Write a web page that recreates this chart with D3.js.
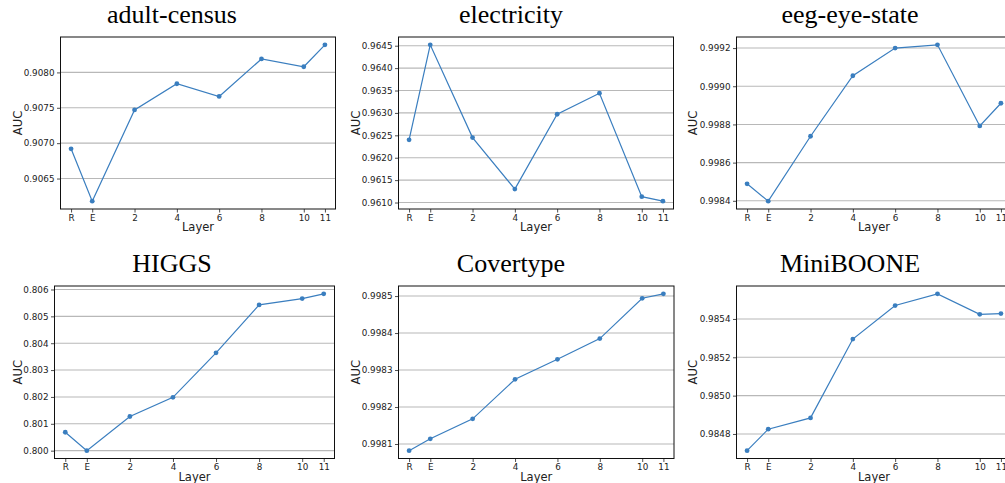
<!DOCTYPE html>
<html><head><meta charset="utf-8">
<script src="https://cdn.jsdelivr.net/npm/d3@7"></script>
<style>
html,body{margin:0;padding:0;background:#fff;}
svg{display:block;}
</style></head>
<body>
<svg id="c" width="1005" height="483"></svg>
<script>
// ---- data ----
const layers = [-1, 0, 2, 4, 6, 8, 10, 11];
const layerLabels = ["R", "E", "2", "4", "6", "8", "10", "11"];

const titles = ["adult-census", "electricity", "eeg-eye-state", "HIGGS", "Covertype", "MiniBOONE"];

const adultCensus = [0.90692, 0.90618, 0.90747, 0.90784, 0.90766, 0.90819, 0.90808, 0.90839];
const electricity = [0.96240, 0.96452, 0.96245, 0.96130, 0.96297, 0.96344, 0.96113, 0.96103];
const eegEyeState = [0.998489, 0.998398, 0.998738, 0.999055, 0.999200, 0.999217, 0.998792, 0.998911];
const higgs = [0.800685, 0.800000, 0.801272, 0.801984, 0.803642, 0.805427, 0.805662, 0.805838];
const covertype = [0.998082, 0.998114, 0.998168, 0.998275, 0.998329, 0.998385, 0.998494, 0.998506];
const miniboone = [0.984713, 0.984825, 0.984884, 0.985295, 0.985470, 0.985531, 0.985424, 0.985428];

const ticksAdult = ["0.9065", "0.9070", "0.9075", "0.9080"];
const ticksElec = ["0.9610", "0.9615", "0.9620", "0.9625", "0.9630", "0.9635", "0.9640", "0.9645"];
const ticksEeg = ["0.9984", "0.9986", "0.9988", "0.9990", "0.9992"];
const ticksHiggs = ["0.800", "0.801", "0.802", "0.803", "0.804", "0.805", "0.806"];
const ticksCover = ["0.9981", "0.9982", "0.9983", "0.9984", "0.9985"];
const ticksMini = ["0.9848", "0.9850", "0.9852", "0.9854"];

const series = [adultCensus, electricity, eegEyeState, higgs, covertype, miniboone];
const yTicks = [ticksAdult, ticksElec, ticksEeg, ticksHiggs, ticksCover, ticksMini];

// ---- layout ----
const boxes = [
  {x0: 60.5, x1: 335.5, y0: 37, y1: 209, tx: 172, ty: 22.5, lx: 18},
  {x0: 398.5, x1: 673.5, y0: 37, y1: 209, tx: 511, ty: 22.5, lx: 356},
  {x0: 736.5, x1: 1011.5, y0: 37, y1: 209, tx: 850, ty: 22.5, lx: 693},
  {x0: 54.5, x1: 334.5, y0: 286, y1: 458.5, tx: 172, ty: 271.5, lx: 18},
  {x0: 398.5, x1: 674, y0: 286, y1: 458.5, tx: 511, ty: 271.5, lx: 356},
  {x0: 736.5, x1: 1011.5, y0: 286, y1: 458.5, tx: 850, ty: 271.5, lx: 693}
];

const lineColor = "#3a7ebf";
const gridColor = "#b8b8b8";
const tickFont = "DejaVu Sans";

const svg = d3.select("#c");

series.forEach((vals, i) => {
  const b = boxes[i];
  const g = svg.append("g");
  const x = d3.scaleLinear().domain([-1.5, 11.5]).range([b.x0, b.x1]);
  const [mn, mx] = d3.extent(vals);
  const pad = (mx - mn) * 0.05;
  const y = d3.scaleLinear().domain([mn - pad, mx + pad]).range([b.y1, b.y0]);
  const tv = yTicks[i].map(Number);

  // grid
  g.append("g").selectAll("line").data(tv).join("line")
    .attr("x1", b.x0).attr("x2", b.x1)
    .attr("y1", d => y(d)).attr("y2", d => y(d))
    .attr("stroke", gridColor).attr("stroke-width", 1.1);

  // y axis
  const ya = g.append("g").attr("transform", `translate(${b.x0},0)`)
    .call(d3.axisLeft(y).tickValues(tv).tickFormat((d, k) => yTicks[i][k]).tickSize(3.5).tickPadding(2.5));
  ya.select(".domain").remove();
  ya.selectAll("text").attr("font-family", tickFont).attr("font-size", 8.8).attr("fill", "#222");
  ya.selectAll("line").attr("stroke", "#222").attr("stroke-width", 0.8);

  // x axis
  const xa = g.append("g").attr("transform", `translate(0,${b.y1})`)
    .call(d3.axisBottom(x).tickValues(layers).tickFormat((d, k) => layerLabels[k]).tickSize(3.5).tickPadding(2));
  xa.select(".domain").remove();
  xa.selectAll("text").attr("font-family", tickFont).attr("font-size", 8.8).attr("fill", "#222");
  xa.selectAll("line").attr("stroke", "#222").attr("stroke-width", 0.8);

  // line + markers
  const pts = layers.map((l, k) => [l, vals[k]]);
  g.append("path").datum(pts)
    .attr("d", d3.line().x(d => x(d[0])).y(d => y(d[1])))
    .attr("fill", "none").attr("stroke", lineColor).attr("stroke-width", 1.2);
  g.append("g").selectAll("circle").data(pts).join("circle")
    .attr("cx", d => x(d[0])).attr("cy", d => y(d[1])).attr("r", 2.4)
    .attr("fill", lineColor);

  // frame
  g.append("rect").attr("x", b.x0).attr("y", b.y0)
    .attr("width", b.x1 - b.x0).attr("height", b.y1 - b.y0)
    .attr("fill", "none").attr("stroke", "#111").attr("stroke-width", 1);

  // labels
  g.append("text").attr("x", (b.x0 + b.x1) / 2).attr("y", b.y1 + 22)
    .attr("text-anchor", "middle").attr("font-family", tickFont).attr("font-size", 11.5)
    .attr("fill", "#222").text("Layer");
  g.append("text").attr("transform", `translate(${b.lx + 4},${(b.y0 + b.y1) / 2}) rotate(-90)`)
    .attr("text-anchor", "middle").attr("font-family", tickFont).attr("font-size", 11.5)
    .attr("fill", "#222").text("AUC");

  // title
  svg.append("text").attr("x", b.tx).attr("y", b.ty)
    .attr("text-anchor", "middle").attr("font-family", "Liberation Serif").attr("font-size", 26)
    .attr("fill", "#000").text(titles[i]);
});
</script>
</body></html>
